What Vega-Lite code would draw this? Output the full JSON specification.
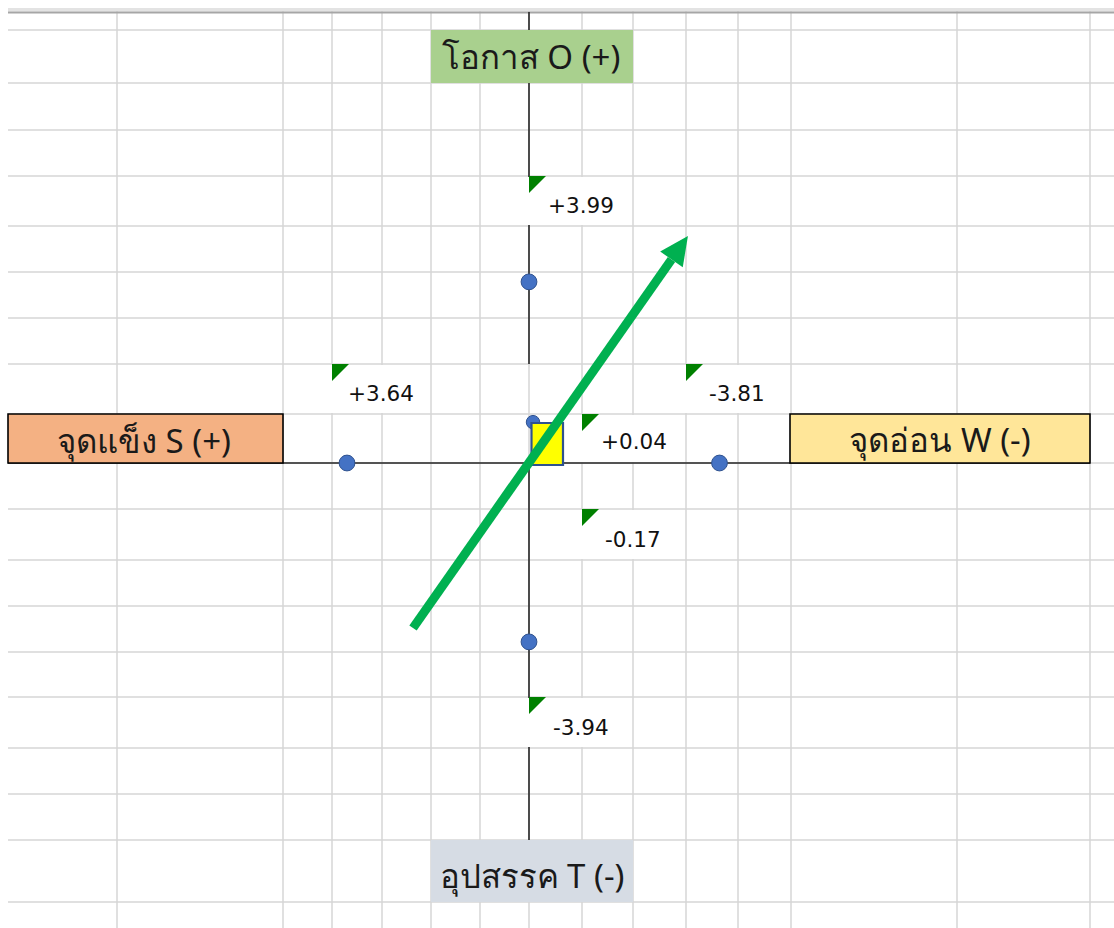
{
  "$schema": "https://vega.github.io/schema/vega-lite/v6.json",
  "width": 1114,
  "height": 928,
  "autosize": {"type": "none"},
  "padding": 0,
  "background": "#ffffff",
  "config": {"view": {"stroke": null}},
  "datasets": {
    "vgrid": [{"x": -8.24}, {"x": -4.92}, {"x": -3.94}, {"x": -2.94}, {"x": -1.96}, {"x": -0.98}, {"x": 0}, {"x": 1.06}, {"x": 2.08}, {"x": 3.14}, {"x": 4.18}, {"x": 5.24}, {"x": 8.56}, {"x": 11.22}],
    "hgrid": [{"y": 9.537}, {"y": 8.37}, {"y": 7.335}, {"y": 6.322}, {"y": 5.22}, {"y": 4.207}, {"y": 3.194}, {"y": 2.181}, {"y": 1.079}, {"y": 0}, {"y": -1.013}, {"y": -2.137}, {"y": -3.15}, {"y": -4.163}, {"y": -5.154}, {"y": -6.278}, {"y": -7.291}, {"y": -8.304}, {"y": -9.67}],
    "axes": [{"x": 0, "x2": 0, "y": 9.934, "y2": 2.181}, {"x": 0, "x2": 0, "y": 0, "y2": -8.304}, {"x": -10.42, "x2": 11.22, "y": 0, "y2": 0}],
    "cells": [
      {"x": -0.02, "x2": 2.06, "y": 6.3, "y2": 5.242},
      {"x": -3.96, "x2": -1.98, "y": 2.159, "y2": 1.101},
      {"x": 3.12, "x2": 5.2, "y": 2.159, "y2": 1.101},
      {"x": 1.04, "x2": 3.12, "y": 1.057, "y2": 0.022},
      {"x": 1.04, "x2": 3.12, "y": -1.035, "y2": -2.115},
      {"x": -0.02, "x2": 2.06, "y": -5.176, "y2": -6.256}
    ],
    "boxesPlain": [
      {"k": "O", "x": -1.96, "x2": 2.08, "y": 9.537, "y2": 8.37},
      {"k": "T", "x": -1.96, "x2": 2.08, "y": -8.304, "y2": -9.67}
    ],
    "boxesBorder": [
      {"k": "S", "x": -10.42, "x2": -4.92, "y": 1.079, "y2": 0},
      {"k": "W", "x": 5.22, "x2": 11.22, "y": 1.079, "y2": 0}
    ],
    "boxText": [
      {"t": "โอกาส O (+)", "x": 0.04, "y": 8.9},
      {"t": "อุปสรรค T (-)", "x": 0.06, "y": -9.14},
      {"t": "จุดแข็ง S (+)", "x": -7.7, "y": 0.45},
      {"t": "จุดอ่อน W (-)", "x": 8.22, "y": 0.47}
    ],
    "flags": [{"x": 0, "y": 6.322}, {"x": -3.94, "y": 2.181}, {"x": 3.14, "y": 2.181}, {"x": 1.06, "y": 1.079}, {"x": 1.06, "y": -1.013}, {"x": 0, "y": -5.154}],
    "labels": [
      {"t": "+3.99", "x": 0.38, "y": 5.64},
      {"t": "+3.64", "x": -3.62, "y": 1.5},
      {"t": "-3.81", "x": 3.6, "y": 1.5},
      {"t": "+0.04", "x": 1.44, "y": 0.44},
      {"t": "-0.17", "x": 1.52, "y": -1.72},
      {"t": "-3.94", "x": 0.48, "y": -5.86}
    ],
    "dots": [{"k": "S", "x": -3.64, "y": 0}, {"k": "W", "x": 3.81, "y": 0}, {"k": "O", "x": 0, "y": 3.99}, {"k": "T", "x": 0, "y": -3.94}],
    "center": [{"x": 0.08, "y": 0.9}],
    "square": [{"x": 0.05, "x2": 0.68, "y": 0.881, "y2": -0.044}],
    "shaft": [{"x": -2.32, "y": -3.634, "x2": 2.85, "y2": 4.483}],
    "head": [{"x": 3.014, "y": 4.742}]
  },
  "layer": [
    {
      "data": {"name": "vgrid"},
      "mark": {"type": "rule", "color": "#d6d6d6", "strokeWidth": 1.5},
      "encoding": {
        "x": {"field": "x", "type": "quantitative", "scale": {"domain": [-10.58, 11.7], "nice": false, "zero": false}, "axis": null},
        "y": {"datum": 10.022, "type": "quantitative", "scale": {"domain": [-10.242, 10.198], "nice": false, "zero": false}, "axis": null},
        "y2": {"datum": -10.242}
      }
    },
    {
      "data": {"name": "hgrid"},
      "mark": {"type": "rule", "color": "#d6d6d6", "strokeWidth": 1.5},
      "encoding": {
        "y": {"field": "y", "type": "quantitative", "scale": {"domain": [-10.242, 10.198], "nice": false, "zero": false}, "axis": null},
        "x": {"datum": -10.42, "type": "quantitative", "scale": {"domain": [-10.58, 11.7], "nice": false, "zero": false}, "axis": null},
        "x2": {"datum": 11.7}
      }
    },
    {
      "data": {"values": [{"a": 1}]},
      "mark": {"type": "rect", "color": "#e3e3e3"},
      "encoding": {
        "x": {"datum": -10.42, "type": "quantitative", "scale": {"domain": [-10.58, 11.7], "nice": false, "zero": false}, "axis": null},
        "x2": {"datum": 11.7},
        "y": {"datum": 10.022, "type": "quantitative", "scale": {"domain": [-10.242, 10.198], "nice": false, "zero": false}, "axis": null},
        "y2": {"datum": 9.945}
      }
    },
    {
      "data": {"values": [{"a": 1}]},
      "mark": {"type": "rule", "color": "#a6a6a6", "strokeWidth": 2},
      "encoding": {
        "x": {"datum": -10.42, "type": "quantitative", "scale": {"domain": [-10.58, 11.7], "nice": false, "zero": false}, "axis": null},
        "x2": {"datum": 11.7},
        "y": {"datum": 9.923, "type": "quantitative", "scale": {"domain": [-10.242, 10.198], "nice": false, "zero": false}, "axis": null}
      }
    },
    {
      "data": {"name": "axes"},
      "mark": {"type": "rule", "color": "#262626", "strokeWidth": 1.6},
      "encoding": {
        "x": {"field": "x", "type": "quantitative", "scale": {"domain": [-10.58, 11.7], "nice": false, "zero": false}, "axis": null},
        "x2": {"field": "x2"},
        "y": {"field": "y", "type": "quantitative", "scale": {"domain": [-10.242, 10.198], "nice": false, "zero": false}, "axis": null},
        "y2": {"field": "y2"}
      }
    },
    {
      "data": {"name": "cells"},
      "mark": {"type": "rect", "color": "#ffffff"},
      "encoding": {
        "x": {"field": "x", "type": "quantitative", "scale": {"domain": [-10.58, 11.7], "nice": false, "zero": false}, "axis": null},
        "x2": {"field": "x2"},
        "y": {"field": "y", "type": "quantitative", "scale": {"domain": [-10.242, 10.198], "nice": false, "zero": false}, "axis": null},
        "y2": {"field": "y2"}
      }
    },
    {
      "data": {"name": "boxesPlain"},
      "mark": {"type": "rect"},
      "encoding": {
        "x": {"field": "x", "type": "quantitative", "scale": {"domain": [-10.58, 11.7], "nice": false, "zero": false}, "axis": null},
        "x2": {"field": "x2"},
        "y": {"field": "y", "type": "quantitative", "scale": {"domain": [-10.242, 10.198], "nice": false, "zero": false}, "axis": null},
        "y2": {"field": "y2"},
        "color": {"field": "k", "type": "nominal", "scale": {"domain": ["O", "T", "S", "W"], "range": ["#a9d08e", "#d6dce4", "#f4b183", "#ffe699"]}, "legend": null}
      }
    },
    {
      "data": {"name": "boxesBorder"},
      "mark": {"type": "rect", "stroke": "#000000", "strokeWidth": 1.6},
      "encoding": {
        "x": {"field": "x", "type": "quantitative", "scale": {"domain": [-10.58, 11.7], "nice": false, "zero": false}, "axis": null},
        "x2": {"field": "x2"},
        "y": {"field": "y", "type": "quantitative", "scale": {"domain": [-10.242, 10.198], "nice": false, "zero": false}, "axis": null},
        "y2": {"field": "y2"},
        "fill": {"field": "k", "type": "nominal", "scale": {"domain": ["O", "T", "S", "W"], "range": ["#a9d08e", "#d6dce4", "#f4b183", "#ffe699"]}, "legend": null}
      }
    },
    {
      "data": {"name": "boxText"},
      "mark": {"type": "text", "font": "Noto Sans", "fontSize": 33, "color": "#1a1a1a", "align": "center", "baseline": "middle"},
      "encoding": {
        "x": {"field": "x", "type": "quantitative", "scale": {"domain": [-10.58, 11.7], "nice": false, "zero": false}, "axis": null},
        "y": {"field": "y", "type": "quantitative", "scale": {"domain": [-10.242, 10.198], "nice": false, "zero": false}, "axis": null},
        "text": {"field": "t"}
      }
    },
    {
      "data": {"name": "flags"},
      "mark": {"type": "point", "shape": "M0,0L2,0L0,2Z", "filled": true, "color": "#008000", "size": 289, "opacity": 1},
      "encoding": {
        "x": {"field": "x", "type": "quantitative", "scale": {"domain": [-10.58, 11.7], "nice": false, "zero": false}, "axis": null},
        "y": {"field": "y", "type": "quantitative", "scale": {"domain": [-10.242, 10.198], "nice": false, "zero": false}, "axis": null}
      }
    },
    {
      "data": {"name": "labels"},
      "mark": {"type": "text", "font": "DejaVu Sans", "fontSize": 21.5, "color": "#111111", "align": "left", "baseline": "middle"},
      "encoding": {
        "x": {"field": "x", "type": "quantitative", "scale": {"domain": [-10.58, 11.7], "nice": false, "zero": false}, "axis": null},
        "y": {"field": "y", "type": "quantitative", "scale": {"domain": [-10.242, 10.198], "nice": false, "zero": false}, "axis": null},
        "text": {"field": "t"}
      }
    },
    {
      "data": {"name": "dots"},
      "mark": {"type": "point", "shape": "circle", "filled": true, "fill": "#4472c4", "stroke": "#2f528f", "strokeWidth": 1, "size": 250, "opacity": 1},
      "encoding": {
        "x": {"field": "x", "type": "quantitative", "scale": {"domain": [-10.58, 11.7], "nice": false, "zero": false}, "axis": null},
        "y": {"field": "y", "type": "quantitative", "scale": {"domain": [-10.242, 10.198], "nice": false, "zero": false}, "axis": null}
      }
    },
    {
      "data": {"name": "center"},
      "mark": {"type": "point", "shape": "circle", "filled": true, "fill": "#4472c4", "stroke": "#2f528f", "strokeWidth": 1, "size": 180, "opacity": 1},
      "encoding": {
        "x": {"field": "x", "type": "quantitative", "scale": {"domain": [-10.58, 11.7], "nice": false, "zero": false}, "axis": null},
        "y": {"field": "y", "type": "quantitative", "scale": {"domain": [-10.242, 10.198], "nice": false, "zero": false}, "axis": null}
      }
    },
    {
      "data": {"name": "square"},
      "mark": {"type": "rect", "fill": "#ffff00", "stroke": "#2f528f", "strokeWidth": 2.2},
      "encoding": {
        "x": {"field": "x", "type": "quantitative", "scale": {"domain": [-10.58, 11.7], "nice": false, "zero": false}, "axis": null},
        "x2": {"field": "x2"},
        "y": {"field": "y", "type": "quantitative", "scale": {"domain": [-10.242, 10.198], "nice": false, "zero": false}, "axis": null},
        "y2": {"field": "y2"}
      }
    },
    {
      "data": {"name": "shaft"},
      "mark": {"type": "rule", "color": "#00b050", "strokeWidth": 9, "strokeCap": "butt"},
      "encoding": {
        "x": {"field": "x", "type": "quantitative", "scale": {"domain": [-10.58, 11.7], "nice": false, "zero": false}, "axis": null},
        "x2": {"field": "x2"},
        "y": {"field": "y", "type": "quantitative", "scale": {"domain": [-10.242, 10.198], "nice": false, "zero": false}, "axis": null},
        "y2": {"field": "y2"}
      }
    },
    {
      "data": {"name": "head"},
      "mark": {"type": "point", "shape": "M0,-1L0.96,1L-0.96,1Z", "filled": true, "color": "#00b050", "size": 823, "angle": 35, "opacity": 1},
      "encoding": {
        "x": {"field": "x", "type": "quantitative", "scale": {"domain": [-10.58, 11.7], "nice": false, "zero": false}, "axis": null},
        "y": {"field": "y", "type": "quantitative", "scale": {"domain": [-10.242, 10.198], "nice": false, "zero": false}, "axis": null}
      }
    }
  ]
}
